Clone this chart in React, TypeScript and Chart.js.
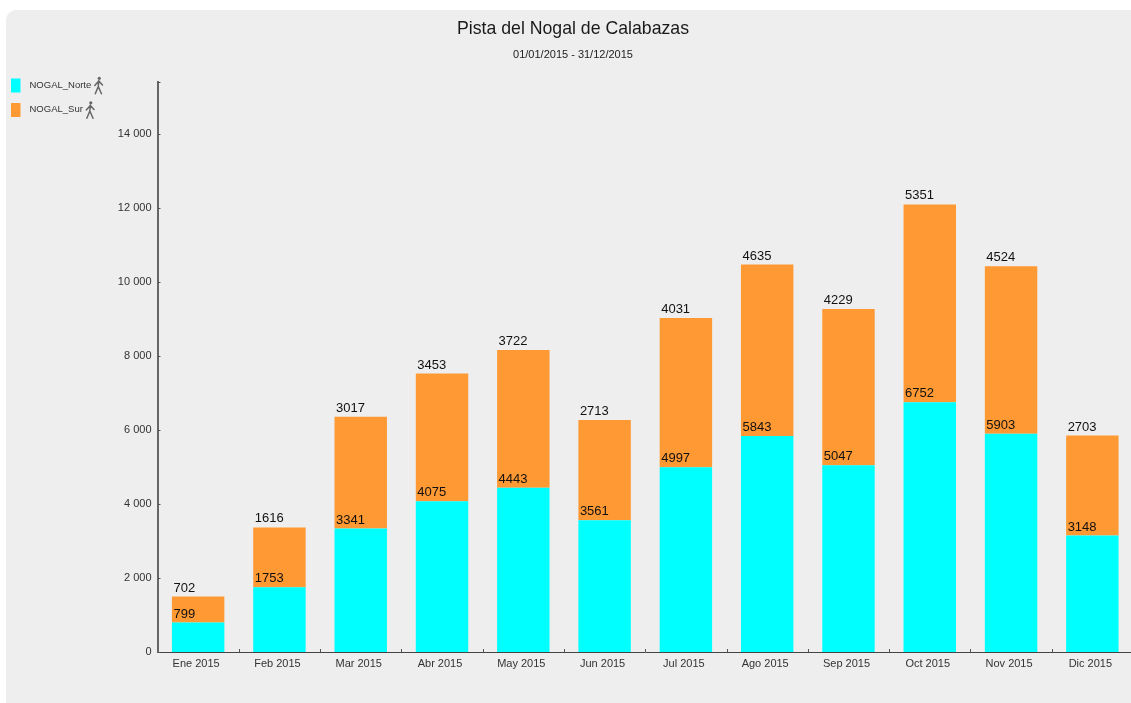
import React, { useEffect, useRef } from "react";
import { Chart, registerables } from "chart.js";

Chart.register(...registerables);

const FONT = "'Liberation Sans', Arial, sans-serif";

const categories = ["Ene 2015", "Feb 2015", "Mar 2015", "Abr 2015", "May 2015", "Jun 2015", "Jul 2015", "Ago 2015", "Sep 2015", "Oct 2015", "Nov 2015", "Dic 2015"];
const norte = [799, 1753, 3341, 4075, 4443, 3561, 4997, 5843, 5047, 6752, 5903, 3148];
const sur = [702, 1616, 3017, 3453, 3722, 2713, 4031, 4635, 4229, 5351, 4524, 2703];
const seriesNames = ["NOGAL_Norte", "NOGAL_Sur"];
const seriesColors = ["#00ffff", "#ff9933"];
const titleText = "Pista del Nogal de Calabazas";
const subtitleText = "01/01/2015 - 31/12/2015";
const yMax = 15400;
const yTicks = [0, 2000, 4000, 6000, 8000, 10000, 12000, 14000];

function drawWalker(ctx: CanvasRenderingContext2D, x: number, y: number) {
  ctx.save();
  ctx.translate(x, y);
  ctx.strokeStyle = "#666";
  ctx.fillStyle = "#666";
  ctx.lineWidth = 1.5;
  ctx.lineCap = "round";
  ctx.beginPath();
  ctx.arc(1, -7.2, 1.6, 0, Math.PI * 2);
  ctx.fill();
  ctx.beginPath();
  ctx.moveTo(0.5, -5);
  ctx.lineTo(0, 1);
  ctx.lineTo(-3, 8.3);
  ctx.moveTo(0, 1);
  ctx.lineTo(3.2, 8.3);
  ctx.moveTo(0.5, -4.5);
  ctx.lineTo(-3.5, 0);
  ctx.moveTo(0.5, -4.5);
  ctx.lineTo(4.2, -0.5);
  ctx.stroke();
  ctx.restore();
}

const extras = {
  id: "extras",
  afterDatasetsDraw(chart: any) {
    const { ctx, scales } = chart;
    const x = scales.x;
    const y = scales.y;
    ctx.save();
    // Inward tick marks
    ctx.strokeStyle = "#555";
    ctx.lineWidth = 1;
    [...yTicks, yMax].forEach((v: number) => {
      const p = Math.round(y.getPixelForValue(v)) + 0.5;
      ctx.beginPath();
      ctx.moveTo(x.left, p);
      ctx.lineTo(x.left + 3, p);
      ctx.stroke();
    });
    const step = (x.right - x.left) / categories.length;
    for (let i = 1; i < categories.length; i++) {
      const p = Math.round(x.left + step * i) + 0.5;
      ctx.beginPath();
      ctx.moveTo(p, y.bottom);
      ctx.lineTo(p, y.bottom - 3);
      ctx.stroke();
    }
    // Value labels, left aligned on each bar
    ctx.fillStyle = "#111";
    ctx.font = `13px ${FONT}`;
    ctx.textAlign = "left";
    ctx.textBaseline = "bottom";
    chart.data.datasets.forEach((ds: any, di: number) => {
      chart.getDatasetMeta(di).data.forEach((bar: any, i: number) => {
        ctx.fillText(String(ds.data[i]), bar.x - bar.width / 2 + 1.5, bar.y - 2);
      });
    });
    // Legend
    chart.data.datasets.forEach((ds: any, di: number) => {
      const cy = 85.5 + di * 24.5;
      ctx.fillStyle = ds.backgroundColor;
      ctx.fillRect(11, cy - 7, 9.5, 14);
      ctx.fillStyle = "#333";
      ctx.font = `9.5px ${FONT}`;
      ctx.textBaseline = "middle";
      ctx.fillText(ds.label, 29.5, cy - 0.5);
      drawWalker(ctx, 29.5 + ctx.measureText(ds.label).width + 7, cy);
    });
    ctx.restore();
  },
};

export default function App() {
  const ref = useRef<HTMLCanvasElement | null>(null);
  useEffect(() => {
    const chart = new Chart(ref.current!, {
      type: "bar",
      data: {
        labels: categories,
        datasets: [
          { label: seriesNames[0], data: norte, backgroundColor: seriesColors[0], borderWidth: 0, stack: "s", categoryPercentage: 0.645, barPercentage: 1 },
          { label: seriesNames[1], data: sur, backgroundColor: seriesColors[1], borderWidth: 0, stack: "s", categoryPercentage: 0.645, barPercentage: 1 },
        ],
      },
      options: {
        responsive: false,
        animation: false,
        layout: { padding: { top: 0, right: 0, bottom: 0, left: 13 } },
        plugins: {
          legend: { display: false },
          tooltip: { enabled: false },
          title: {
            display: true,
            text: titleText,
            color: "#1a1a1a",
            font: { family: FONT, size: 17.7, weight: "normal" },
            padding: { top: 18, bottom: 9 },
          },
          subtitle: {
            display: true,
            text: subtitleText,
            color: "#222",
            font: { family: FONT, size: 11, weight: "normal" },
            padding: { top: 0, bottom: 21 },
          },
        },
        scales: {
          x: {
            stacked: true,
            afterFit: (s: any) => { s.height = 51; },
            grid: { display: false },
            border: { color: "#444", width: 1 },
            ticks: { color: "#333", font: { family: FONT, size: 11 }, padding: -3, labelOffset: -2, maxRotation: 0, autoSkip: false },
          },
          y: {
            stacked: true,
            min: 0,
            max: yMax,
            afterFit: (s: any) => { s.width = 144.5; },
            afterBuildTicks: (s: any) => { s.ticks = yTicks.map((value) => ({ value })); },
            grid: { display: false },
            border: { color: "#666", width: 2 },
            ticks: {
              color: "#333",
              font: { family: FONT, size: 11 },
              padding: -2,
              callback: (v: any) => String(v).replace(/\B(?=(\d{3})+$)/g, " "),
            },
          },
        },
      },
      plugins: [extras],
    } as any);
    return () => chart.destroy();
  }, []);
  return (
    <div style={{ position: "fixed", inset: 0, width: 1131, height: 703, background: "#fff", overflow: "hidden" }}>
      <div style={{ position: "absolute", left: 6, top: 10, width: 1125, height: 693, background: "#eeeeee", borderTopLeftRadius: 10 }} />
      <canvas ref={ref} width={1133} height={703} style={{ position: "absolute", left: 0, top: 0, width: 1133, height: 703 }} />
    </div>
  );
}
